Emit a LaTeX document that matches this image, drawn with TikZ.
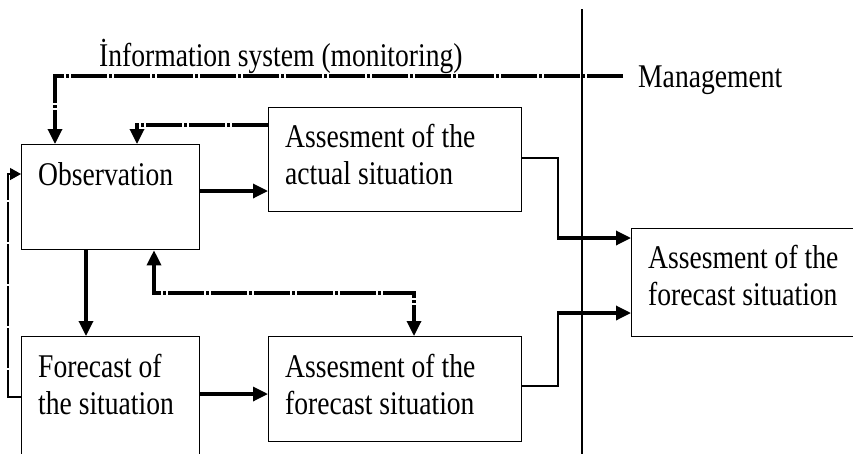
\documentclass[tikz,border=0pt]{standalone}
\usepackage{fontspec}
\setmainfont{Liberation Serif}
\usetikzlibrary{arrows.meta,calc}
\newcommand{\vtext}[1]{\scalebox{1}[1.2]{\begin{tabular}[t]{@{}l@{}}#1\end{tabular}}}
\tikzset{
  box/.style={draw, line width=1.3pt, anchor=north west, inner sep=0pt},
  lbl/.style={anchor=base west, inner sep=0pt, font=\fontsize{27.6}{31.2}\selectfont},
  tip/.style={-{Triangle[length=15pt,width=14pt]}},
  thickln/.style={line width=3.3pt},
  thinln/.style={line width=1.3pt},
  dashln/.style={dash pattern=on 36pt off 2pt on 3pt off 2pt}
}
\begin{document}
\begin{tikzpicture}[x=1pt,y=-1pt]
\useasboundingbox (0,0) rectangle (853,453);
\clip (0,0) rectangle (853,453);
% boxes
\node[box, minimum width=178pt, minimum height=105pt] (obs) at (21,144) {};
\node[box, minimum width=253pt, minimum height=104pt] (act) at (268,107) {};
\node[box, minimum width=178pt, minimum height=140pt] (fc) at (21,336) {};
\node[box, minimum width=253pt, minimum height=105pt] (afc) at (268,336) {};
\node[box, minimum width=250pt, minimum height=108pt] (res) at (631,228) {};
% texts
\node[lbl] (tobs) at (38,185) {\vtext{Observation}};
\node[lbl] (tact) at (285,147) {\vtext{Assesment of the\\actual situation}};
\node[lbl] (tfc) at (38,377) {\vtext{Forecast of\\the situation}};
\node[lbl] (tafc) at (285,377) {\vtext{Assesment of the\\forecast situation}};
\node[lbl] (tres) at (648,268) {\vtext{Assesment of the\\forecast situation}};
\node[lbl] (title) at (99,66) {\vtext{İnformation system (monitoring)}};
\node[lbl] (mgmt) at (638,87) {\vtext{Management}};
% separator
\coordinate (sepT) at (582,9);
\coordinate (sepB) at (582,460);
\draw[thinln] (sepT) -- (sepB);
% information system line
\coordinate (infoR) at (623,76);
\draw[thickln, dashln, tip] (infoR) -| ([xshift=34pt]obs.north west);
% act -> obs (dashed feedback)
\draw[thickln, dashln, tip] ($(act.north west)+(0,18)$) -| ([xshift=116pt]obs.north west);
% obs -> act
\draw[thickln, tip] (obs.east |- 0,191) -- (act.west |- 0,191);
% obs -> fc
\draw[thickln, tip] (obs.south -| 86,0) -- (fc.north -| 86,0);
% obs <-> afc
\draw[thickln, dashln, {Triangle[length=15pt,width=14pt]}-{Triangle[length=15pt,width=14pt]}]
  (obs.south -| 154,0) |- (414,293) -- (afc.north -| 414,0);
% fc -> obs (left loop)
\draw[thinln, dash pattern=on 40pt off 2pt, -{Triangle[length=11pt,width=12pt]}]
  (fc.west |- 0,397) -| (8,174) -- (obs.west |- 0,174);
% fc -> afc
\draw[thickln, tip] (fc.east |- 0,394) -- (afc.west |- 0,394);
% act -> res
\draw[thinln] (act.east |- 0,158) -| (558,238);
\draw[thickln, tip] (557,238) -- (res.west |- 0,238);
% afc -> res
\draw[thinln] (afc.east |- 0,386) -| (558,313);
\draw[thickln, tip] (557,313) -- (res.west |- 0,313);
\end{tikzpicture}
\end{document}
